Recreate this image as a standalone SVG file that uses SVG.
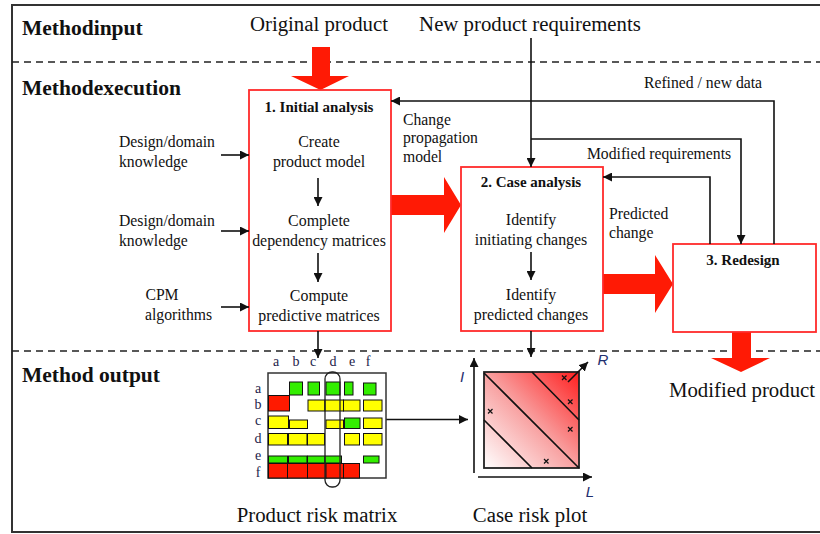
<svg xmlns="http://www.w3.org/2000/svg" width="820" height="534" viewBox="0 0 820 534" font-family="'Liberation Serif', 'Times New Roman', Times, 'DejaVu Serif', serif">
<style>
text{fill:#111}
.h{font-size:21.5px;font-weight:bold}
.big{font-size:20.8px}
.t{font-size:15.9px;text-anchor:middle}
.tl{font-size:15.7px}
.s{font-size:15.7px}
.ttl{font-size:15px;font-weight:bold;text-anchor:middle}
.ml{font-size:14px;text-anchor:middle;fill:#1c1c4a}
.ax{font-size:15px;font-style:italic;font-family:"Liberation Sans",Arial,sans-serif;fill:#1f2f6f}
.box{fill:#fff;stroke:#ff2b2b;stroke-width:1.8}
.ra{fill:#ff1a05;stroke:none}
.c{fill:none;stroke:#111;stroke-width:1.6}
.dash{fill:none;stroke:#222;stroke-width:1.6;stroke-dasharray:7 5}
.g{fill:#33ee00;stroke:#111;stroke-width:1}
.y{fill:#ffff00;stroke:#111;stroke-width:1}
.r{fill:#ff1a00;stroke:#111;stroke-width:1}
.xm{stroke:#111;stroke-width:1.2}
</style>
<defs>
<marker id="ah" viewBox="0 0 10 10" refX="10" refY="5" markerWidth="9" markerHeight="9" markerUnits="userSpaceOnUse" orient="auto">
<path d="M0,0 L10,5 L0,10 z" fill="#111"/>
</marker>
<linearGradient id="grad" x1="0" y1="1" x2="1" y2="0">
<stop offset="0" stop-color="#ffffff"/>
<stop offset="0.5" stop-color="#f8a0a0"/>
<stop offset="1" stop-color="#ff1f1f"/>
</linearGradient>
</defs>
<rect x="0" y="0" width="820" height="534" fill="#fff"/>
<rect x="12" y="5" width="820" height="527" fill="none" stroke="#333" stroke-width="2"/>
<path class="dash" d="M12,62 H820"/>
<path class="dash" d="M12,351 H820"/>

<g id="sections">
<text class="h" x="22" y="35">Methodinput</text>
<text class="h" x="22" y="95">Methodexecution</text>
<text class="h" x="22" y="382">Method output</text>
</g>

<g id="inputs">
<text class="big" x="319" y="31" text-anchor="middle">Original product</text>
<text class="big" x="530" y="31" text-anchor="middle">New product requirements</text>
</g>

<g id="red-arrows">
<polygon class="ra" points="312,47 330,47 330,76 349,76 320.5,90 291,76 312,76"/>
<polygon class="ra" points="391,195 444,195 444,177 461,205 444,233 444,215 391,215"/>
<polygon class="ra" points="603,274 655,274 655,255 673,284 655,313 655,294 603,294"/>
<polygon class="ra" points="732,332 751,332 751,358 770,358 741,372 711,358 732,358"/>
</g>

<g id="box1">
<rect class="box" x="249" y="90" width="142" height="241"/>
<text class="ttl" x="319" y="112">1. Initial analysis</text>
<text class="t" x="319" y="147">Create</text>
<text class="t" x="319" y="167">product model</text>
<text class="t" x="319" y="226">Complete</text>
<text class="t" x="319" y="246">dependency matrices</text>
<text class="t" x="319" y="301">Compute</text>
<text class="t" x="319" y="321">predictive matrices</text>
</g>

<g id="box2">
<rect class="box" x="461" y="167" width="142" height="164"/>
<text class="ttl" x="531" y="187">2. Case analysis</text>
<text class="t" x="531" y="225">Identify</text>
<text class="t" x="531" y="245">initiating changes</text>
<text class="t" x="531" y="300">Identify</text>
<text class="t" x="531" y="320">predicted changes</text>
</g>

<g id="box3">
<rect class="box" x="673" y="244" width="143" height="88"/>
<text class="ttl" x="743" y="265">3. Redesign</text>
</g>

<g id="side-labels">
<text class="tl" x="119" y="147">Design/domain</text>
<text class="tl" x="119" y="167">knowledge</text>
<text class="tl" x="119" y="226">Design/domain</text>
<text class="tl" x="119" y="246">knowledge</text>
<text class="tl" x="162" y="300" text-anchor="middle">CPM</text>
<text class="tl" x="145" y="320">algorithms</text>
<text class="s" x="403" y="125">Change</text>
<text class="s" x="403" y="143">propagation</text>
<text class="s" x="403" y="162">model</text>
<text class="s" x="609" y="219">Predicted</text>
<text class="s" x="609" y="238">change</text>
<text class="s" x="703" y="88" text-anchor="middle">Refined / new data</text>
<text class="s" x="659" y="159" text-anchor="middle">Modified requirements</text>
<text class="big" x="742" y="397" text-anchor="middle">Modified product</text>
</g>

<g id="connectors">
<path class="c" d="M221,155 H249" marker-end="url(#ah)"/>
<path class="c" d="M221,231 H249" marker-end="url(#ah)"/>
<path class="c" d="M221,307 H249" marker-end="url(#ah)"/>
<path class="c" d="M318,178 V206" marker-end="url(#ah)"/>
<path class="c" d="M318,253 V282" marker-end="url(#ah)"/>
<path class="c" d="M318,331 V358" marker-end="url(#ah)"/>
<path class="c" d="M531,252 V280" marker-end="url(#ah)"/>
<path class="c" d="M531,331 V357" marker-end="url(#ah)"/>
<path class="c" d="M531,38 V167" marker-end="url(#ah)"/>
<path class="c" d="M531,139 H741 V244" marker-end="url(#ah)"/>
<path class="c" d="M774,244 V101 H391" marker-end="url(#ah)"/>
<path class="c" d="M710,244 V177 H603" marker-end="url(#ah)"/>
<path class="c" d="M346,419.5 H468" marker-end="url(#ah)"/>
</g>

<g id="risk-matrix">
<g>
<text class="ml" x="276" y="366">a</text>
<text class="ml" x="296" y="366">b</text>
<text class="ml" x="313" y="366">c</text>
<text class="ml" x="333" y="366">d</text>
<text class="ml" x="352" y="366">e</text>
<text class="ml" x="368" y="366">f</text>
<text class="ml" x="258" y="393">a</text>
<text class="ml" x="258" y="409">b</text>
<text class="ml" x="258" y="425">c</text>
<text class="ml" x="258" y="443">d</text>
<text class="ml" x="258" y="460">e</text>
<text class="ml" x="258" y="477">f</text>
</g>
<rect x="268" y="373" width="118" height="105" fill="#fff" stroke="#333" stroke-width="1.5"/>
<rect class="g" x="289.5" y="382" width="13" height="13"/>
<rect class="g" x="308" y="382" width="11.5" height="13"/>
<rect class="g" x="326" y="382" width="14" height="13"/>
<rect class="g" x="344.5" y="382" width="8.5" height="13"/>
<rect class="g" x="363.5" y="383" width="12.5" height="12"/>
<rect class="r" x="268.5" y="395.5" width="21" height="15.5"/>
<rect class="y" x="308" y="400" width="17" height="11"/>
<rect class="y" x="325" y="400" width="18.5" height="11"/>
<rect class="y" x="343.5" y="400" width="16.5" height="11"/>
<rect class="y" x="363.5" y="400" width="18.5" height="11"/>
<rect class="y" x="268.5" y="416" width="20" height="12.5"/>
<rect class="y" x="289.5" y="420" width="18" height="8.5"/>
<rect class="y" x="326" y="420" width="17.5" height="8.5"/>
<rect class="g" x="344.5" y="418" width="15.5" height="10.5"/>
<rect class="y" x="363.5" y="418" width="18.5" height="10.5"/>
<rect class="y" x="268.5" y="433.5" width="19" height="11.5"/>
<rect class="y" x="288.5" y="433.5" width="18.5" height="11.5"/>
<rect class="y" x="307.5" y="433.5" width="17" height="11.5"/>
<rect class="y" x="344.5" y="433.5" width="15" height="11.5"/>
<rect class="y" x="363.5" y="433.5" width="18.5" height="11.5"/>
<rect class="g" x="268.5" y="456" width="19" height="7"/>
<rect class="g" x="288.5" y="456" width="18.5" height="7"/>
<rect class="g" x="307.5" y="456" width="17.5" height="7"/>
<rect class="g" x="325" y="456" width="16.5" height="7"/>
<rect class="g" x="363.5" y="456" width="15.5" height="7"/>
<rect class="r" x="268.5" y="463.5" width="19" height="14.5"/>
<rect class="r" x="287.5" y="463.5" width="20" height="14.5"/>
<rect class="r" x="307.5" y="463.5" width="18.5" height="14.5"/>
<rect class="r" x="326" y="463.5" width="17.5" height="14.5"/>
<rect class="r" x="343.5" y="463.5" width="16" height="14.5"/>
<rect x="325" y="372" width="15" height="115" rx="7" ry="7" fill="none" stroke="#222" stroke-width="1.3"/>
<text class="big" x="317" y="522" text-anchor="middle">Product risk matrix</text>
</g>

<g id="risk-plot">
<rect x="484" y="372" width="95" height="96" fill="url(#grad)" stroke="#222" stroke-width="1.8"/>
<path class="c" d="M484,373 L579,468 M484,420 L532,468 M532,372 L579,420"/>
<path class="c" d="M474,473 V358" marker-end="url(#ah)"/>
<path class="c" d="M478,477 H592" marker-end="url(#ah)"/>
<path class="c" d="M568,382 L588,362" marker-end="url(#ah)"/>
<g class="xm">
<path d="M562,375.5 L566.5,380 M566.5,375.5 L562,380"/>
<path d="M568,399.5 L572.5,404 M572.5,399.5 L568,404"/>
<path d="M488,409 L492.5,413.5 M492.5,409 L488,413.5"/>
<path d="M568,427 L572.5,431.5 M572.5,427 L568,431.5"/>
<path d="M544,459 L548.5,463.5 M548.5,459 L544,463.5"/>
</g>
<text class="ax" x="462" y="382" text-anchor="middle">I</text>
<text class="ax" x="603" y="365" text-anchor="middle">R</text>
<text class="ax" x="590" y="497" text-anchor="middle">L</text>
<text class="big" x="530" y="522" text-anchor="middle">Case risk plot</text>
</g>
</svg>
